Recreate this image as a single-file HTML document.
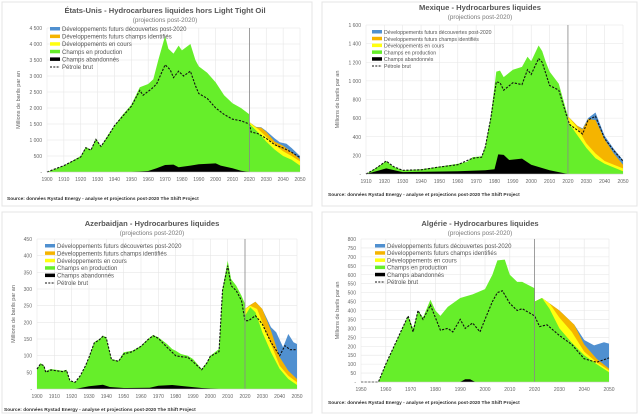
<!DOCTYPE html>
<html><head><meta charset="utf-8"><style>
html,body{margin:0;padding:0;background:#fff;}
svg{display:block;font-family:"Liberation Sans",sans-serif;}
</style></head><body>
<svg id="s" width="640" height="415" viewBox="0 0 640 415" xmlns="http://www.w3.org/2000/svg"></svg>
<script>
const S=document.getElementById('s');let h='';
const G='#66ee2a',Y='#ffff10',O='#f5b400',B='#5090d0',K='#000';
function chart(c){
  const X=y=>c.x0+(y-c.yr0)/(c.yr1-c.yr0)*(c.x1-c.x0);
  const V=v=>c.yb-(v/c.vmax)*(c.yb-c.yt);
  h+=`<rect x="${c.px}" y="${c.py}" width="${c.pw}" height="${c.ph}" fill="#fff" stroke="#e4e4e4" stroke-width="1"/>`;
  for(let v=0;v<=c.vmax;v+=c.step){const y=V(v);
    h+=`<line x1="${c.x0}" x2="${c.x1}" y1="${y}" y2="${y}" stroke="#e6e6e6" stroke-width="0.6"/>`;
    h+=`<text x="${c.x0-5}" y="${y+2}" font-size="5" fill="#666" text-anchor="end">${v==0?'-':v.toLocaleString('fr-FR').replace(/\u202f|\u00a0/g,' ')}</text>`;}
  for(let yr=c.yr0;yr<=c.yr1;yr+=10){const x=X(yr);
    h+=`<line x1="${x}" x2="${x}" y1="${c.yt}" y2="${c.yb}" stroke="#e6e6e6" stroke-width="0.6"/>`;
    h+=`<text x="${x}" y="${c.yb+9}" font-size="5" fill="#666" text-anchor="middle">${yr}</text>`;}
  const area=(pts,col)=>{let d=`M${X(pts[0][0])},${c.yb}`;pts.forEach(p=>d+=`L${X(p[0]).toFixed(1)},${V(p[1]).toFixed(1)}`);d+=`L${X(pts[pts.length-1][0])},${c.yb}Z`;h+=`<path d="${d}" fill="${col}"/>`;};
  if(c.blue)area(c.blue,B);if(c.orange)area(c.orange,O);if(c.yellow)area(c.yellow,Y);
  area(c.green,G);area(c.post,G);if(c.black)area(c.black,K);
  let d='';c.dash.forEach((p,i)=>d+=(i?'L':'M')+X(p[0]).toFixed(1)+','+V(p[1]).toFixed(1));
  h+=`<path d="${d}" fill="none" stroke="#111" stroke-width="1.1" stroke-dasharray="2.2,1.4"/>`;
  const xv=X(2020);h+=`<line x1="${xv}" x2="${xv}" y1="${c.yt}" y2="${c.yb}" stroke="#888" stroke-width="0.8"/>`;
  h+=`<line x1="${c.x0}" x2="${c.x1}" y1="${c.yb}" y2="${c.yb}" stroke="#ccc" stroke-width="0.6"/>`;
  h+=`<text x="${c.tx}" y="${c.ty}" font-size="7.6" font-weight="bold" fill="#555" text-anchor="middle">${c.title}</text>`;
  h+=`<text x="${c.tx}" y="${c.ty+9}" font-size="6.3" fill="#777" text-anchor="middle">(projections post-2020)</text>`;
  h+=`<text x="${c.ox}" y="${(c.yt+c.yb)/2}" font-size="5.5" fill="#666" text-anchor="middle" transform="rotate(-90 ${c.ox} ${(c.yt+c.yb)/2})">Millions de barils par an</text>`;
  const L=[[B,'Développements futurs découvertes post-2020'],[O,'Développements futurs champs identifiés'],[Y,'Développements en cours'],[G,'Champs en production']];
  if(c.black)L.push([K,'Champs abandonnés']);L.push([null,'Pétrole brut']);
  L.forEach((l,i)=>{const y=c.ly+i*c.ld;
    if(l[0])h+=`<rect x="${c.lx}" y="${y-3}" width="10" height="3.5" fill="${l[0]}"/>`;
    else h+=`<line x1="${c.lx}" x2="${c.lx+10}" y1="${y-1}" y2="${y-1}" stroke="#111" stroke-width="1" stroke-dasharray="2,1.3"/>`;
    h+=`<text x="${c.lx+12}" y="${y+1}" font-size="${c.lf}" fill="#555">${l[1]}</text>`;});
  h+=`<text x="${c.sx}" y="${c.sy}" font-size="4.8" fill="#333" font-weight="bold">Source: données Rystad Energy - analyse et projections post-2020  The Shift Project</text>`;
}
chart({px:2,py:2,pw:310,ph:204,x0:47,x1:300,yr0:1900,yr1:2050,yb:172,yt:28,vmax:4500,step:500,tx:165,ty:13,ox:20,lx:50,ly:30,ld:7.6,lf:6,sx:7,sy:200,
title:'États-Unis - Hydrocarbures liquides hors Light Tight Oil',
green:[[1900,0],[1910,200],[1920,500],[1923,780],[1926,700],[1929,1050],[1932,800],[1936,1150],[1940,1450],[1945,1800],[1950,2100],[1955,2650],[1960,2750],[1963,2900],[1966,3500],[1970,4250],[1972,3850],[1975,3700],[1978,3950],[1980,3800],[1985,4000],[1988,3500],[1990,3300],[1995,3100],[2000,2800],[2005,2400],[2010,2150],[2015,2000],[2020,1800]],
post:[[2020,1500],[2025,1250],[2030,950],[2035,700],[2040,500],[2045,380],[2050,200]],
yellow:[[2020,1550],[2025,1350],[2030,1100],[2035,850],[2040,650],[2045,500],[2050,330]],
orange:[[2020,1560],[2024,1400],[2027,1380],[2030,1250],[2035,950],[2040,820],[2045,620],[2050,400]],
blue:[[2020,1560],[2024,1410],[2027,1400],[2030,1280],[2035,1050],[2038,930],[2042,880],[2045,750],[2050,500]],
black:[[1950,0],[1960,30],[1965,120],[1970,220],[1975,230],[1978,150],[1985,200],[1990,240],[2000,270],[2003,200],[2010,120],[2015,40],[2020,0]],
dash:[[1900,0],[1910,200],[1920,470],[1923,760],[1926,680],[1929,1020],[1932,800],[1936,1100],[1940,1450],[1945,1750],[1950,2050],[1955,2550],[1957,2400],[1962,2600],[1965,2750],[1970,3350],[1973,3200],[1975,2950],[1978,3150],[1981,3000],[1985,3150],[1988,2700],[1990,2450],[1995,2300],[2000,2000],[2005,1800],[2010,1650],[2015,1600],[2020,1500],[2021,1250],[2025,1200],[2030,1050],[2035,850],[2040,750],[2045,620],[2050,450]]});
chart({px:322,py:2,pw:315,ph:204,x0:366,x1:623,yr0:1910,yr1:2050,yb:174,yt:25,vmax:1600,step:200,tx:480,ty:10,ox:339,lx:372,ly:33,ld:6.8,lf:5.2,sx:328,sy:196,
title:'Mexique - Hydrocarbures liquides',
green:[[1910,0],[1915,60],[1921,140],[1925,80],[1930,40],[1940,50],[1950,80],[1960,110],[1965,130],[1968,180],[1973,190],[1975,300],[1978,620],[1981,1100],[1983,1110],[1985,1040],[1990,1120],[1995,1150],[1998,1260],[2000,1210],[2004,1380],[2006,1320],[2008,1200],[2010,1100],[2015,970],[2020,620]],
post:[[2020,560],[2025,420],[2030,280],[2035,170],[2040,110],[2045,70],[2050,30]],
yellow:[[2020,620],[2025,500],[2030,330],[2035,220],[2040,140],[2045,100],[2050,60]],
orange:[[2020,620],[2025,520],[2028,480],[2031,590],[2035,580],[2040,370],[2045,220],[2050,100]],
blue:[[2020,620],[2025,520],[2028,490],[2031,600],[2035,660],[2040,410],[2045,270],[2050,150]],
black:[[1910,0],[1921,60],[1930,20],[1960,30],[1975,40],[1980,50],[1982,210],[1985,205],[1988,150],[1995,165],[2000,100],[2010,40],[2020,0]],
dash:[[1910,0],[1915,55],[1921,140],[1925,80],[1930,40],[1940,45],[1950,75],[1960,100],[1968,170],[1973,180],[1975,290],[1978,600],[1981,990],[1983,980],[1985,900],[1990,980],[1995,960],[1998,1120],[2000,1070],[2004,1240],[2006,1200],[2010,950],[2015,900],[2020,580],[2021,530],[2028,430],[2031,580],[2035,620],[2040,380],[2045,250],[2050,140]]});
chart({px:2,py:212,pw:310,ph:201,x0:37,x1:297,yr0:1900,yr1:2050,yb:389,yt:239,vmax:450,step:50,tx:152,ty:226,ox:15,lx:45,ly:247,ld:7.4,lf:6,sx:4,sy:411,
title:'Azerbaidjan - Hydrocarbures liquides',
green:[[1900,60],[1902,78],[1904,70],[1905,55],[1908,60],[1915,55],[1917,58],[1919,25],[1922,20],[1925,40],[1928,70],[1930,95],[1933,140],[1936,150],[1938,160],[1940,155],[1943,90],[1947,85],[1950,110],[1955,115],[1960,130],[1964,150],[1967,162],[1970,155],[1975,135],[1978,120],[1980,115],[1983,105],[1987,100],[1990,90],[1995,60],[1998,80],[2000,100],[2005,120],[2007,300],[2010,385],[2012,330],[2015,310],[2018,280],[2020,255]],
post:[[2020,220],[2023,245],[2026,230],[2030,170],[2035,110],[2040,60],[2045,30],[2050,12]],
yellow:[[2020,240],[2023,250],[2027,240],[2030,200],[2035,135],[2040,70],[2045,40],[2050,20]],
orange:[[2020,240],[2023,252],[2026,262],[2030,240],[2035,175],[2040,95],[2045,55],[2050,30]],
blue:[[2020,240],[2023,252],[2026,262],[2030,240],[2035,185],[2038,170],[2042,125],[2045,165],[2048,140],[2050,135]],
black:[[1922,0],[1930,8],[1938,13],[1942,6],[1950,3],[1965,4],[1970,10],[1978,12],[1985,8],[1995,3],[2005,0]],
dash:[[1900,60],[1902,75],[1904,70],[1905,50],[1908,57],[1915,52],[1917,56],[1919,25],[1922,20],[1925,40],[1928,70],[1930,95],[1933,138],[1936,148],[1938,158],[1940,153],[1943,88],[1947,83],[1950,105],[1955,112],[1960,128],[1964,148],[1967,160],[1970,152],[1975,125],[1978,110],[1980,100],[1983,97],[1987,95],[1990,82],[1995,58],[1998,78],[2000,98],[2005,112],[2007,295],[2010,370],[2012,310],[2015,295],[2018,265],[2020,205],[2022,205],[2026,220],[2030,195],[2035,140],[2040,100],[2043,130],[2046,118],[2050,118]]});
chart({px:322,py:212,pw:315,ph:201,x0:361,x1:609,yr0:1950,yr1:2050,yb:382,yt:239,vmax:800,step:50,tx:480,ty:226,ox:339,lx:375,ly:247,ld:7.2,lf:6,sx:328,sy:404,
title:'Algérie - Hydrocarbures liquides',
green:[[1950,0],[1957,0],[1960,100],[1965,250],[1969,370],[1971,300],[1973,400],[1975,360],[1978,460],[1980,400],[1982,370],[1985,420],[1990,470],[1995,490],[2000,520],[2003,600],[2005,680],[2008,685],[2010,600],[2013,560],[2015,560],[2020,525]],
post:[[2020,450],[2023,470],[2026,410],[2030,300],[2035,220],[2040,150],[2045,100],[2050,55]],
yellow:[[2020,450],[2023,470],[2026,440],[2030,360],[2035,280],[2040,170],[2045,110],[2050,65]],
orange:[[2020,450],[2023,470],[2026,440],[2030,400],[2036,320],[2040,210],[2045,130],[2050,75]],
blue:[[2020,450],[2023,470],[2026,440],[2030,400],[2036,320],[2040,235],[2044,205],[2048,222],[2050,215]],
black:[[1990,0],[1992,15],[1994,15],[1996,0]],
dash:[[1950,0],[1957,0],[1960,100],[1965,250],[1969,370],[1971,280],[1973,400],[1975,350],[1978,430],[1980,360],[1982,290],[1985,300],[1987,280],[1990,350],[1992,300],[1995,330],[1998,280],[2000,350],[2003,450],[2005,500],[2007,510],[2010,440],[2013,400],[2015,410],[2020,370],[2022,310],[2025,320],[2030,260],[2035,210],[2040,130],[2045,110],[2050,135]]});
S.innerHTML=h;
</script>
</body></html>
